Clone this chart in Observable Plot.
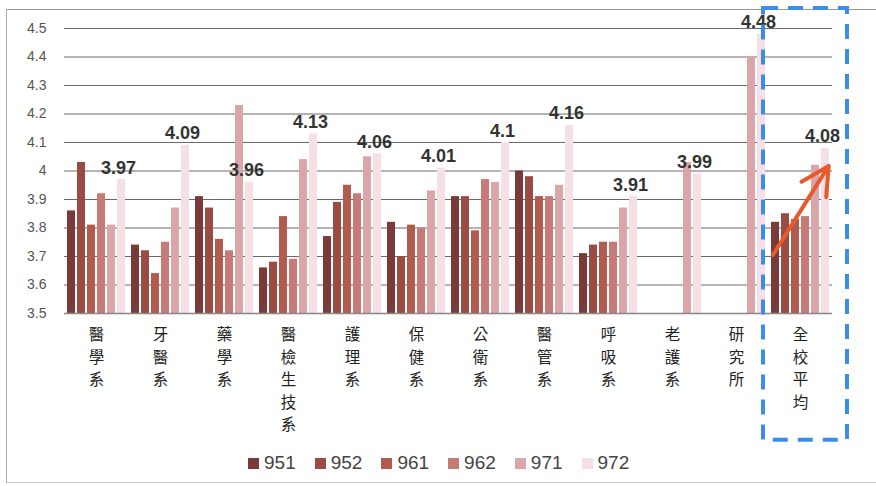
<!DOCTYPE html>
<html>
<head>
<meta charset="utf-8">
<script src="https://cdn.jsdelivr.net/npm/d3@7"></script>
<script src="https://cdn.jsdelivr.net/npm/@observablehq/plot@0.6"></script>
<style>
  html, body { margin: 0; padding: 0; background: #fff; }
  #wrap { position: relative; width: 876px; height: 486px; overflow: hidden; }
  #frame { position: absolute; left: 6px; top: 9px; width: 900px; height: 472px;
           border-left: 1px solid #aaa; border-top: 1px solid #999; border-bottom: 1px solid #ccc; }
  #chart { position: absolute; left: 0; top: 0; }
  #legend { position: absolute; left: 248px; top: 446px; }
  .lg-swatches { margin: 0 !important; }
  .lg-swatches-wrap { min-height: 34px !important; }
  .lg-swatch > svg { margin-right: 5px !important; }
  .lg-swatches-wrap .lg-swatch { margin-right: 19px !important; }
</style>
</head>
<body>
<div id="wrap">
  <div id="frame"></div>
  <div id="chart"></div>
  <div id="legend"></div>
</div>
<script>
// Categories (departments)
const depts = ["醫學系","牙醫系","藥學系","醫檢生技系","護理系","保健系","公衛系","醫管系","呼吸系","老護系","研究所","全校平均"];
// Series (semesters)
const series = ["951","952","961","962","971","972"];
// Series values, one per department (null = not shown)
const v951 = [3.86, 3.74, 3.91, 3.66, 3.77, 3.82, 3.91, 4.00, 3.71, null, null, 3.82];
const v952 = [4.03, 3.72, 3.87, 3.68, 3.89, 3.70, 3.91, 3.98, 3.74, null, null, 3.85];
const v961 = [3.81, 3.64, 3.76, 3.84, 3.95, 3.81, 3.79, 3.91, 3.75, null, null, 3.83];
const v962 = [3.92, 3.75, 3.72, 3.69, 3.92, 3.80, 3.97, 3.91, 3.75, null, null, 3.84];
const v971 = [3.81, 3.87, 4.23, 4.04, 4.05, 3.93, 3.96, 3.95, 3.87, 4.03, 4.40, 4.02];
const v972 = [3.97, 4.09, 3.96, 4.13, 4.06, 4.01, 4.10, 4.16, 3.91, 3.99, 4.48, 4.08];
// Y tick labels
const yTicks = [3.5, 3.6, 3.7, 3.8, 3.9, 4, 4.1, 4.2, 4.3, 4.4, 4.5];
// Colours of the series
const colors = ["#7b3a3a", "#9b4a44", "#b05a50", "#c87a74", "#dba6aa", "#f6dfe6"];
// Annotations: highlight box around the school average and trend arrow
const highlight = [{dept: "全校平均", top: 4.57, bottom: 3.055}];
const trend = [{dept: "全校平均", from: "951", to: "972", start: 3.72, end: 4.0}];

const valuesBySeries = [v951, v952, v961, v962, v971, v972];
const rows = depts.flatMap((d, i) => series.map((s, k) => ({dept: d, series: s, value: valuesBySeries[k][i]})))
  .filter(r => r.value != null);
const labelRows = rows.filter(r => r.series === "972");
const base = yTicks[0];

const chart = Plot.plot({
  width: 876,
  height: 446,
  marginTop: 28,
  marginBottom: 133,
  marginLeft: 64,
  marginRight: 44,
  style: {fontFamily: "Liberation Sans, Arial, sans-serif", fontSize: "14px", color: "#555",
          background: "transparent", overflow: "visible"},
  fx: {domain: depts, padding: 0, axis: null, label: null},
  x: {domain: series, paddingInner: 0.25, paddingOuter: 0.325, axis: null, label: null},
  y: {domain: [yTicks[0], yTicks[yTicks.length - 1]], ticks: yTicks, tickFormat: d => String(+d.toFixed(1)),
      tickSize: 0, tickPadding: 18, label: null},
  color: {domain: series, range: colors},
  marks: [
    Plot.ruleY(yTicks.slice(1), {stroke: "#6a6a6a", strokeWidth: 1}),
    Plot.barY(rows, {fx: "dept", x: "series", y1: () => base, y2: "value", fill: "series"}),
    Plot.ruleY([base], {stroke: "#888", strokeWidth: 1.6}),
    Plot.text(labelRows, {fx: "dept", x: "series", y: "value", text: d => String(d.value),
      lineAnchor: "bottom", dy: -6, dx: -3, fontWeight: "bold", fontSize: 18, fill: "#333"}),
    Plot.text(depts, {fx: d => d, text: d => [...d].join("\n"), frameAnchor: "bottom",
      lineAnchor: "top", dy: 11, fontSize: 15.5, lineHeight: 1.45, fill: "#222",
      fontFamily: "Noto Sans CJK TC"}),
    Plot.rect(highlight, {fx: "dept", y1: "top", y2: "bottom", insetLeft: -5, insetRight: -15,
      fill: "none", stroke: "#3a8ee8", strokeWidth: 4, strokeDasharray: "15 10"}),
    Plot.arrow(trend, {fx: "dept", x1: "from", y1: "start", x2: "to", y2: "end",
      stroke: "#e85a2a", strokeWidth: 4, headLength: 13, headAngle: 55, strokeLinejoin: "miter",
      insetStart: -5, insetEnd: -6})
  ]
});
document.getElementById("chart").appendChild(chart);

const legend = Plot.legend({
  color: {domain: series, range: colors},
  legend: "swatches",
  swatchSize: 11,
  className: "lg",
  style: {fontSize: "19px", fontFamily: "Liberation Sans, Arial, sans-serif", color: "#444"}
});
document.getElementById("legend").appendChild(legend);
</script>
</body>
</html>
